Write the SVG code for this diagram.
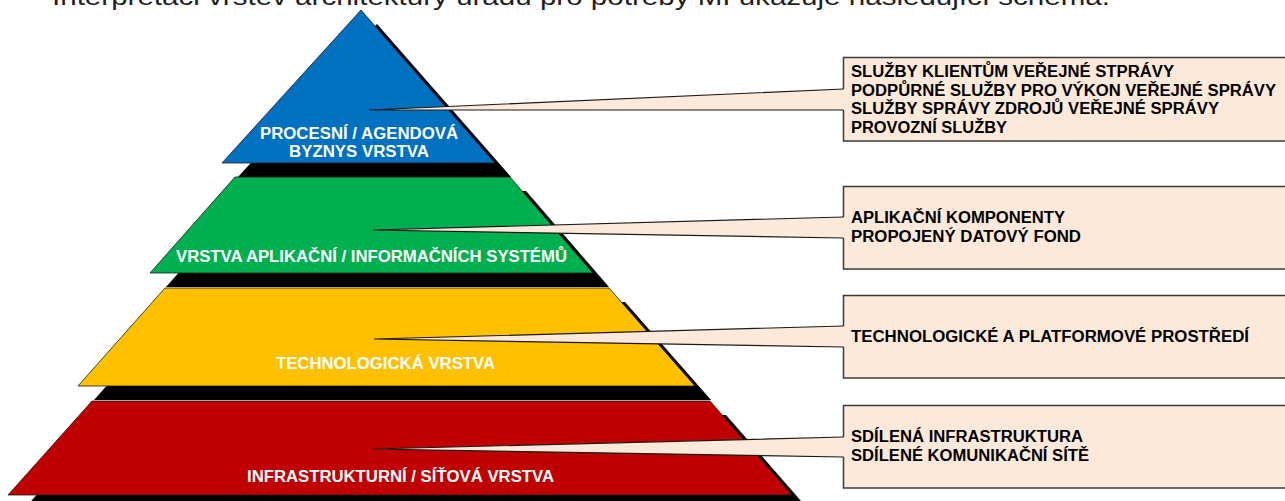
<svg xmlns="http://www.w3.org/2000/svg" width="1285" height="501" viewBox="0 0 1285 501">
<defs>
<style>
.title{font-family:"Liberation Sans","Noto Sans",Arial,sans-serif;font-size:24px;fill:#1f1f1f}
.shadow{fill:#000}
.layer{stroke:#1a1a1a;stroke-width:0.8}
.lbl{font-family:"Liberation Sans",Arial,sans-serif;font-weight:bold;font-size:16px;fill:#fff;text-anchor:middle}
.box{fill:#FDE9D9;stroke:#3a3a3a;stroke-width:1.5}
.wedge{fill:#FDE9D9;stroke:none}
.wedge-edge{fill:none;stroke:#1a1a1a;stroke-width:1.2;stroke-linejoin:miter}
.btxt{font-family:"Liberation Sans",Arial,sans-serif;font-weight:bold;font-size:16px;fill:#000}
</style>
</defs>
<rect width="1285" height="501" fill="#fff"/>
<text class="title" x="52" y="5" textLength="1058" lengthAdjust="spacingAndGlyphs">Interpretaci vrstev architektury úřadu pro potřeby MI ukazuje následující schéma.</text>

<g id="shadows">
<polygon class="shadow" points="361,10 495,163 222,163" transform="translate(16,14)"/>
<polygon class="shadow" points="235,177 510,177 593,273 150,273" transform="translate(16,14)"/>
<polygon class="shadow" points="165,288 609,288 695,386 78,386" transform="translate(16,14)"/>
<polygon class="shadow" points="92,401 710,401 792,495 8,495" transform="translate(16,14)"/>
</g>

<g id="layer-process">
<polygon class="layer" points="361,10 495,163 222,163" fill="#0070C0"/>
<text class="lbl" x="359" y="139" textLength="198" lengthAdjust="spacingAndGlyphs">PROCESNÍ / AGENDOVÁ</text>
<text class="lbl" x="359" y="157" textLength="140" lengthAdjust="spacingAndGlyphs">BYZNYS VRSTVA</text>
</g>
<g id="layer-application">
<polygon class="layer" points="235,177 510,177 593,273 150,273" fill="#00B050"/>
<text class="lbl" x="371.5" y="262" textLength="391" lengthAdjust="spacingAndGlyphs">VRSTVA APLIKAČNÍ / INFORMAČNÍCH SYSTÉMŮ</text>
</g>
<g id="layer-technology">
<polygon class="layer" points="165,288 609,288 695,386 78,386" fill="#FFC000"/>
<text class="lbl" x="385.5" y="369" textLength="219" lengthAdjust="spacingAndGlyphs">TECHNOLOGICKÁ VRSTVA</text>
</g>
<g id="layer-infrastructure">
<polygon class="layer" points="92,401 710,401 792,495 8,495" fill="#C00000"/>
<text class="lbl" x="400.5" y="482" textLength="307" lengthAdjust="spacingAndGlyphs">INFRASTRUKTURNÍ / SÍŤOVÁ VRSTVA</text>
</g>

<g id="callout-process">
<rect class="box" x="843.5" y="57.5" width="460" height="83.5"/>
<text class="btxt" x="851" y="77" textLength="323" lengthAdjust="spacingAndGlyphs">SLUŽBY KLIENTŮM VEŘEJNÉ STPRÁVY</text>
<text class="btxt" x="851" y="95.5" textLength="425" lengthAdjust="spacingAndGlyphs">PODPŮRNÉ SLUŽBY PRO VÝKON VEŘEJNÉ SPRÁVY</text>
<text class="btxt" x="851" y="114" textLength="368" lengthAdjust="spacingAndGlyphs">SLUŽBY SPRÁVY ZDROJŮ VEŘEJNÉ SPRÁVY</text>
<text class="btxt" x="851" y="133" textLength="156" lengthAdjust="spacingAndGlyphs">PROVOZNÍ SLUŽBY</text>
</g>
<g id="callout-application">
<rect class="box" x="843.5" y="186.5" width="460" height="82.5"/>
<text class="btxt" x="851" y="223" textLength="214" lengthAdjust="spacingAndGlyphs">APLIKAČNÍ KOMPONENTY</text>
<text class="btxt" x="851" y="241.5" textLength="230" lengthAdjust="spacingAndGlyphs">PROPOJENÝ DATOVÝ FOND</text>
</g>
<g id="callout-technology">
<rect class="box" x="843.5" y="295.5" width="460" height="82.5"/>
<text class="btxt" x="851" y="342" textLength="398" lengthAdjust="spacingAndGlyphs">TECHNOLOGICKÉ A PLATFORMOVÉ PROSTŘEDÍ</text>
</g>
<g id="callout-infrastructure">
<rect class="box" x="843.5" y="405.5" width="460" height="82.5"/>
<text class="btxt" x="851" y="442" textLength="232" lengthAdjust="spacingAndGlyphs">SDÍLENÁ INFRASTRUKTURA</text>
<text class="btxt" x="851" y="461" textLength="238" lengthAdjust="spacingAndGlyphs">SDÍLENÉ KOMUNIKAČNÍ SÍTĚ</text>
</g>

<g id="connectors">
<polygon class="wedge" points="369,110 845.5,89 845.5,110"/>
<polyline class="wedge-edge" points="843.5,89 369,110 843.5,110"/>
<polygon class="wedge" points="373,230 845.5,217 845.5,238"/>
<polyline class="wedge-edge" points="843.5,217 373,230 843.5,238"/>
<polygon class="wedge" points="374,339 845.5,326 845.5,347"/>
<polyline class="wedge-edge" points="843.5,326 374,339 843.5,347"/>
<polygon class="wedge" points="373,449 845.5,437 845.5,457"/>
<polyline class="wedge-edge" points="843.5,437 373,449 843.5,457"/>
</g>
</svg>
